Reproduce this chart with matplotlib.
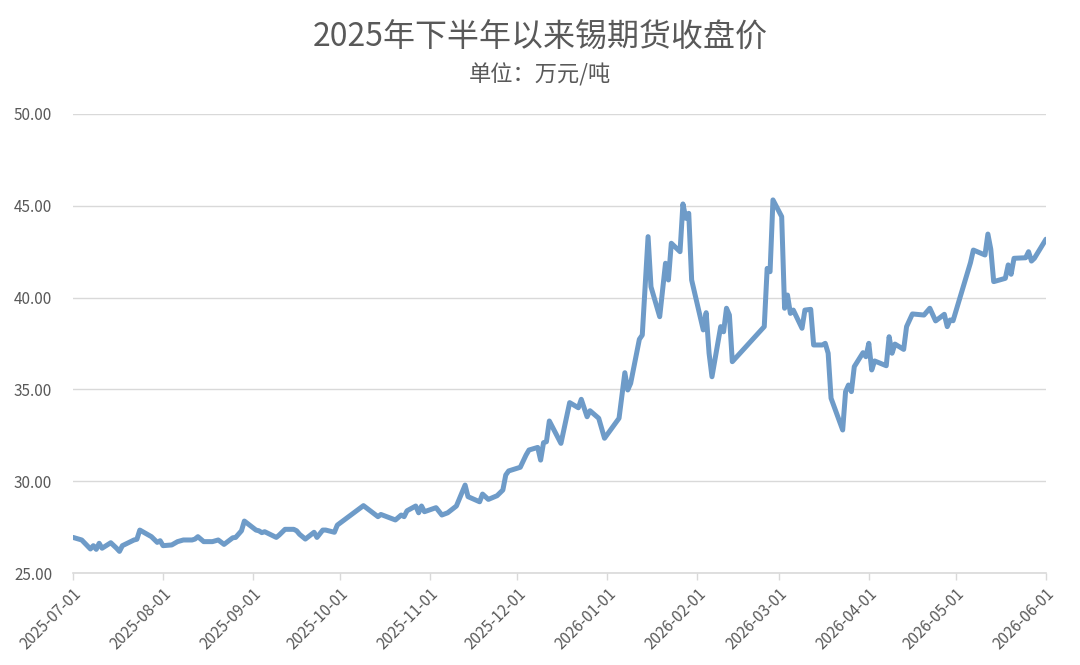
import matplotlib
matplotlib.use("Agg")
import matplotlib.pyplot as plt
import pandas as pd

plt.rcParams['font.family'] = ['Noto Sans CJK SC', 'DejaVu Sans']

# 锡期货收盘价（万元/吨）
dates = [
    "2025-07-01", "2025-07-04", "2025-07-07", "2025-07-08", "2025-07-09", "2025-07-10",
    "2025-07-11", "2025-07-14", "2025-07-16", "2025-07-17", "2025-07-18", "2025-07-22",
    "2025-07-23", "2025-07-24", "2025-07-28", "2025-07-30", "2025-07-31", "2025-08-01",
    "2025-08-04", "2025-08-06", "2025-08-08", "2025-08-11", "2025-08-12", "2025-08-13",
    "2025-08-15", "2025-08-18", "2025-08-20", "2025-08-22", "2025-08-25", "2025-08-26",
    "2025-08-28", "2025-08-29", "2025-09-02", "2025-09-03", "2025-09-04", "2025-09-05",
    "2025-09-09", "2025-09-10", "2025-09-12", "2025-09-15", "2025-09-16", "2025-09-17",
    "2025-09-19", "2025-09-22", "2025-09-23", "2025-09-25", "2025-09-26", "2025-09-29",
    "2025-09-30", "2025-10-09", "2025-10-14", "2025-10-15", "2025-10-20", "2025-10-22",
    "2025-10-23", "2025-10-24", "2025-10-27", "2025-10-28", "2025-10-29", "2025-10-30",
    "2025-11-03", "2025-11-05", "2025-11-07", "2025-11-10", "2025-11-13", "2025-11-14",
    "2025-11-18", "2025-11-19", "2025-11-21", "2025-11-24", "2025-11-26", "2025-11-27",
    "2025-11-28", "2025-12-02", "2025-12-04", "2025-12-05", "2025-12-08", "2025-12-09",
    "2025-12-10", "2025-12-11", "2025-12-12", "2025-12-16", "2025-12-19", "2025-12-22",
    "2025-12-23", "2025-12-25", "2025-12-26", "2025-12-29", "2025-12-31", "2026-01-05",
    "2026-01-07", "2026-01-08", "2026-01-09", "2026-01-12", "2026-01-13", "2026-01-15",
    "2026-01-16", "2026-01-19", "2026-01-21", "2026-01-22", "2026-01-23", "2026-01-26",
    "2026-01-27", "2026-01-28", "2026-01-29", "2026-01-30", "2026-02-03", "2026-02-04",
    "2026-02-05", "2026-02-06", "2026-02-09", "2026-02-10", "2026-02-11", "2026-02-12",
    "2026-02-13", "2026-02-24", "2026-02-25", "2026-02-26", "2026-02-27", "2026-03-02",
    "2026-03-03", "2026-03-04", "2026-03-05", "2026-03-06", "2026-03-09", "2026-03-10",
    "2026-03-12", "2026-03-13", "2026-03-16", "2026-03-17", "2026-03-18", "2026-03-19",
    "2026-03-23", "2026-03-24", "2026-03-25", "2026-03-26", "2026-03-27", "2026-03-30",
    "2026-03-31", "2026-04-01", "2026-04-02", "2026-04-03", "2026-04-07", "2026-04-08",
    "2026-04-09", "2026-04-10", "2026-04-13", "2026-04-14", "2026-04-16", "2026-04-20",
    "2026-04-22", "2026-04-24", "2026-04-27", "2026-04-28", "2026-04-29", "2026-04-30",
    "2026-05-06", "2026-05-07", "2026-05-11", "2026-05-12", "2026-05-13", "2026-05-14",
    "2026-05-18", "2026-05-19", "2026-05-20", "2026-05-21", "2026-05-25", "2026-05-26",
    "2026-05-27", "2026-05-28", "2026-06-01",
]
prices = [
    26.94, 26.80, 26.31, 26.49, 26.29, 26.62,
    26.35, 26.65, 26.35, 26.18, 26.49, 26.80,
    26.84, 27.34, 26.98, 26.67, 26.76, 26.49,
    26.53, 26.71, 26.80, 26.80, 26.85, 26.98,
    26.71, 26.71, 26.80, 26.56, 26.92, 26.94,
    27.30, 27.83, 27.34, 27.30, 27.20, 27.25,
    26.94, 27.07, 27.38, 27.38, 27.30, 27.11,
    26.85, 27.22, 26.94, 27.34, 27.34, 27.22,
    27.61, 28.67, 28.07, 28.19, 27.89, 28.16,
    28.07, 28.39, 28.65, 28.28, 28.65, 28.34,
    28.56, 28.16, 28.28, 28.65, 29.79, 29.16,
    28.88, 29.30, 29.01, 29.21, 29.52, 30.34,
    30.56, 30.76, 31.43, 31.70, 31.84, 31.15,
    32.10, 32.15, 33.28, 32.06, 34.28, 34.00,
    34.46, 33.51, 33.84, 33.43, 32.34, 33.43,
    35.91, 34.97, 35.33, 37.73, 37.96, 43.32,
    40.59, 38.96, 41.87, 40.96, 42.96, 42.50,
    45.10, 44.32, 44.59, 40.96, 38.24, 39.18,
    36.97, 35.69, 38.42, 38.14, 39.42, 39.05,
    36.51, 38.42, 41.59, 41.41, 45.32, 44.41,
    39.42, 40.14, 39.14, 39.32, 38.33, 39.32,
    39.36, 37.42, 37.42, 37.51, 36.97, 34.52,
    32.79, 34.88, 35.24, 34.88, 36.24, 37.00,
    36.78, 37.51, 36.06, 36.55, 36.29, 37.87,
    36.97, 37.47, 37.18, 38.42, 39.11, 39.05,
    39.42, 38.73, 39.09, 38.42, 38.78, 38.74,
    41.90, 42.59, 42.32, 43.46, 42.63, 40.87,
    41.05, 41.78, 41.27, 42.14, 42.17, 42.50,
    41.99, 42.14, 43.18,
]
month_ticks = pd.date_range("2025-07-01", "2026-06-01", freq="MS")
y_ticks = [25, 30, 35, 40, 45, 50]

title = "2025年下半年以来锡期货收盘价"
subtitle = "单位：万元/吨"

x = pd.to_datetime(dates)

fig = plt.figure(figsize=(10.8, 6.65), dpi=100)
ax = fig.add_axes([0.0676, 0.1383, 0.9009, 0.6903])

ax.plot(x, prices, color="#6e9bc8", linewidth=3.6, solid_joinstyle="round",
        solid_capstyle="round", zorder=3)

ax.set_xlim(month_ticks[0], month_ticks[-1])
ax.set_ylim(25, 50)
ax.set_yticks(y_ticks)
ax.set_yticklabels([f"{v:.2f}" for v in y_ticks])
ax.set_xticks(month_ticks)
ax.set_xticklabels([d.strftime("%Y-%m-%d") for d in month_ticks],
                   rotation=45, ha="right", rotation_mode="anchor")

ax.grid(axis="y", color="#d9d9d9", linewidth=1.0)
ax.set_axisbelow(True)
for s in ["top", "right", "left"]:
    ax.spines[s].set_visible(False)
ax.spines["bottom"].set_color("#d9d9d9")
ax.spines["bottom"].set_linewidth(1.2)
ax.spines["bottom"].set_zorder(1)

ax.tick_params(axis="y", length=0, pad=15, labelsize=11, labelcolor="#595959")
ax.tick_params(axis="x", length=5, width=1, color="#d9d9d9", pad=4,
               labelsize=11, labelcolor="#595959")

fig.text(0.5, 0.945, title, ha="center", va="center", fontsize=23, color="#595959")
fig.text(0.5, 0.887, subtitle, ha="center", va="center", fontsize=16, color="#595959")

fig.savefig("out.png", dpi=100, facecolor="white")
